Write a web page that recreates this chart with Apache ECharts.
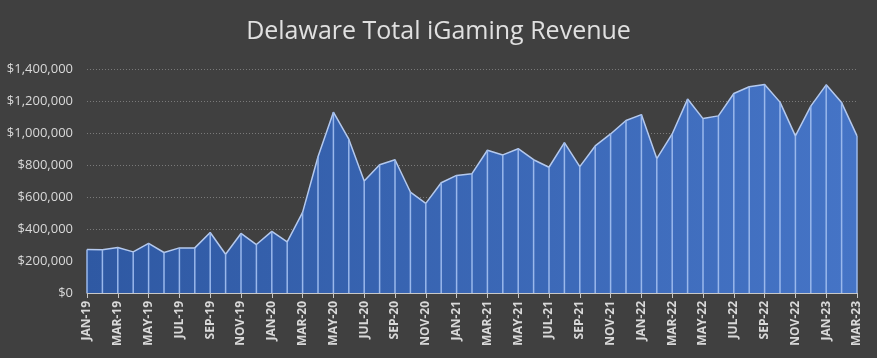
<!DOCTYPE html>
<html>
<head>
<meta charset="utf-8">
<script src="https://cdn.jsdelivr.net/npm/echarts@6/dist/echarts.min.js"></script>
<style>
html,body{margin:0;padding:0;background:#404040;}
#c{width:877px;height:358px;}
</style>
</head>
<body>
<div id="c"></div>
<script>
const months = ['JAN','FEB','MAR','APR','MAY','JUN','JUL','AUG','SEP','OCT','NOV','DEC'];
const categories = [];
for (let y = 19; y <= 23; y++) {
  for (let m = 0; m < 12; m++) {
    if (y === 23 && m > 2) break;
    categories.push(months[m] + '-' + y);
  }
}
const revenue = [
  272000, 270000, 284000, 257000, 310000, 253000, 282000, 282000, 378000, 242000,
  372000, 303000, 385000, 320000, 504000, 852000, 1130000, 961000, 700000, 802000,
  833000, 631000, 560000, 689000, 735000, 746000, 892000, 863000, 902000, 833000,
  786000, 940000, 790000, 919000, 994000, 1078000, 1115000, 840000, 994000, 1212000,
  1090000, 1107000, 1247000, 1289000, 1303000, 1193000, 982000, 1168000, 1301000, 1190000,
  982000
];
const yTicks = [0, 200000, 400000, 600000, 800000, 1000000, 1200000, 1400000];

const chart = echarts.init(document.getElementById('c'));
chart.setOption({
  backgroundColor: '#404040',
  animation: false,
  title: {
    text: 'Delaware Total iGaming Revenue',
    left: 'center',
    top: 14,
    textStyle: { color: '#e0e0e0', fontSize: 25, fontWeight: 'normal', fontFamily: 'Open Sans' }
  },
  grid: { left: 87, right: 20, top: 69, bottom: 65 },
  xAxis: {
    type: 'category',
    data: categories,
    boundaryGap: false,
    axisLine: { lineStyle: { color: '#c8c8c8', width: 1 } },
    axisTick: { show: true, interval: 1, length: 5, lineStyle: { color: '#c8c8c8' } },
    axisLabel: {
      interval: 1, rotate: 90, color: '#d9d9d9', fontSize: 12, fontWeight: 'bold',
      fontFamily: 'Open Sans', margin: 8
    },
    splitLine: { show: false }
  },
  yAxis: {
    type: 'value',
    min: yTicks[0],
    max: yTicks[yTicks.length - 1],
    interval: 200000,
    axisLine: { show: false },
    axisTick: { show: false },
    axisLabel: {
      color: '#d9d9d9', fontSize: 13, fontFamily: 'Open Sans', margin: 14,
      formatter: v => '$' + v.toLocaleString('en-US')
    },
    splitLine: { lineStyle: { color: '#7a7a7a', type: [1, 2], width: 1 } }
  },
  series: [
    {
      type: 'line',
      data: revenue,
      symbol: 'none',
      lineStyle: { color: '#b4c9ee', width: 1.5 },
      areaStyle: {
        opacity: 1,
        color: new echarts.graphic.LinearGradient(0, 0, 1, 0, [
          { offset: 0, color: '#2f59a3' },
          { offset: 1, color: '#4574c6' }
        ])
      },
      z: 2
    },
    {
      type: 'bar',
      data: revenue,
      barWidth: 1.5,
      itemStyle: { color: '#9ab8ec' },
      z: 3
    }
  ]
});
</script>
</body>
</html>
